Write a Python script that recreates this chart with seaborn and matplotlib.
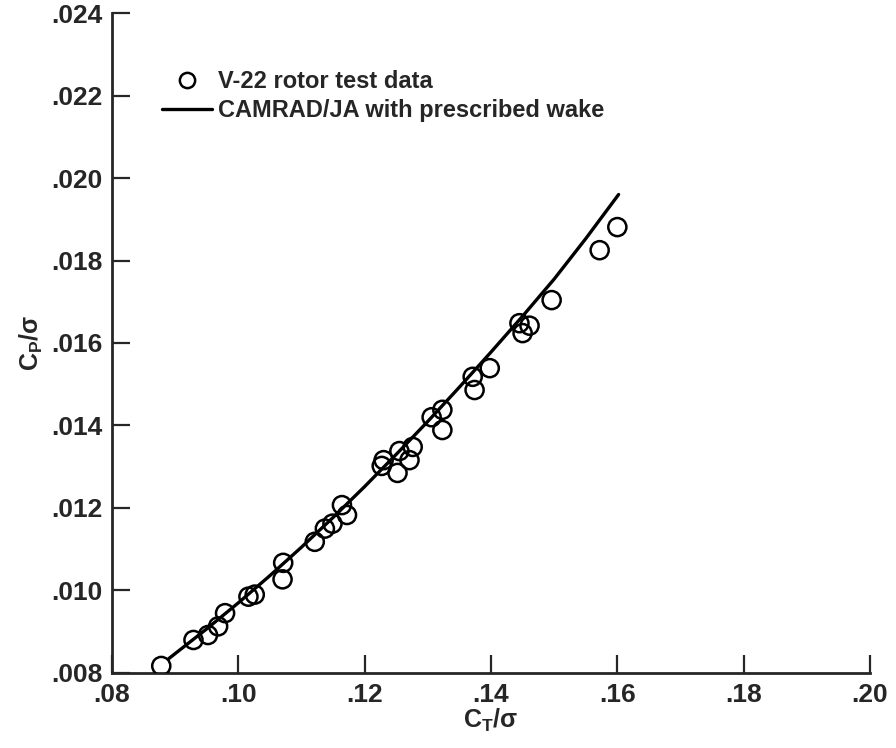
import numpy as np
import pandas as pd
import matplotlib
matplotlib.use("Agg")
import matplotlib.pyplot as plt
import seaborn as sns
from matplotlib.lines import Line2D
from matplotlib.ticker import FuncFormatter

# Test data (C_T/sigma, C_P/sigma)
test_ct = [0.0878, 0.0929, 0.0952, 0.0968, 0.0979, 0.1016, 0.1026, 0.1070, 0.1071,
           0.1121, 0.1137, 0.1149, 0.1164, 0.1172, 0.1227, 0.1230, 0.1252, 0.1255,
           0.1271, 0.1276, 0.1306, 0.1323, 0.1323, 0.1371, 0.1374, 0.1398, 0.1445,
           0.1450, 0.1461, 0.1496, 0.1572, 0.1600]
test_cp = [0.00817, 0.00880, 0.00892, 0.00913, 0.00945, 0.00985, 0.00990, 0.01027, 0.01067,
           0.01118, 0.01150, 0.01162, 0.01207, 0.01183, 0.01302, 0.01316, 0.01285, 0.01338,
           0.01316, 0.01348, 0.01420, 0.01438, 0.01389, 0.01518, 0.01486, 0.01539, 0.01648,
           0.01624, 0.01642, 0.01704, 0.01825, 0.01881]

# CAMRAD/JA prediction
calc_ct = [0.089, 0.095, 0.100, 0.105, 0.110, 0.115, 0.120, 0.125, 0.130,
           0.135, 0.140, 0.145, 0.150, 0.155, 0.1602]
calc_cp = [0.00835, 0.00907, 0.00970, 0.01036, 0.01105, 0.01177, 0.01252, 0.01330, 0.01410,
           0.01493, 0.01578, 0.01665, 0.01755, 0.01853, 0.01960]

xticks = [0.08, 0.10, 0.12, 0.14, 0.16, 0.18, 0.20]
yticks = [0.008, 0.010, 0.012, 0.014, 0.016, 0.018, 0.020, 0.022, 0.024]

sns.set_style("ticks")
plt.rcParams['font.family'] = ['Liberation Sans', 'DejaVu Sans']
plt.rcParams['font.weight'] = 'bold'
plt.rcParams['mathtext.fontset'] = 'custom'
plt.rcParams['mathtext.rm'] = 'Liberation Sans:bold'
plt.rcParams['mathtext.it'] = 'Liberation Sans:bold'
plt.rcParams['mathtext.bf'] = 'Liberation Sans:bold'

fig = plt.figure(figsize=(8.96, 7.48), dpi=100)
ax = fig.add_axes([0.125, 0.1003, 0.846, 0.8823])

df_test = pd.DataFrame({"ct": test_ct, "cp": test_cp})
df_calc = pd.DataFrame({"ct": calc_ct, "cp": calc_cp})

sns.lineplot(data=df_calc, x="ct", y="cp", ax=ax, color="black", linewidth=2.4,
             sort=True, estimator=None, legend=False)
sns.scatterplot(data=df_test, x="ct", y="cp", ax=ax, s=170, marker="o",
                facecolor="none", edgecolor="black", linewidth=1.8, legend=False, zorder=3)

ax.set_xlim(0.08, 0.20)
ax.set_ylim(0.008, 0.024)
ax.set_xticks(xticks)
ax.set_yticks(yticks)
ax.xaxis.set_major_formatter(FuncFormatter(lambda v, p: ("%.2f" % v)[1:]))
ax.yaxis.set_major_formatter(FuncFormatter(lambda v, p: ("%.3f" % v)[1:]))
ax.tick_params(direction="in", length=13, width=1.6, labelsize=19, pad=7)
for lab in ax.get_xticklabels() + ax.get_yticklabels():
    lab.set_fontweight("bold")

sns.despine(ax=ax)
for s in ["left", "bottom"]:
    ax.spines[s].set_linewidth(2.0)

ax.set_xlabel(r"C$_{\mathrm{T}}$/σ", fontsize=18, fontweight="bold", labelpad=0)
ax.set_ylabel(r"C$_{\mathrm{P}}$/σ", fontsize=18, fontweight="bold", labelpad=4)

handles = [
    Line2D([], [], marker="o", linestyle="none", markerfacecolor="none",
           markeredgecolor="black", markeredgewidth=1.8, markersize=11),
    Line2D([], [], color="black", linewidth=2.4),
]
leg = ax.legend(handles, ["V-22 rotor test data", "CAMRAD/JA with prescribed wake"],
                loc="upper left", bbox_to_anchor=(0.051, 0.931), frameon=False,
                prop={"size": 17, "weight": "bold"}, handlelength=2.1,
                handletextpad=0.25, labelspacing=0.25, borderpad=0)

fig.savefig("out.png", dpi=100)
